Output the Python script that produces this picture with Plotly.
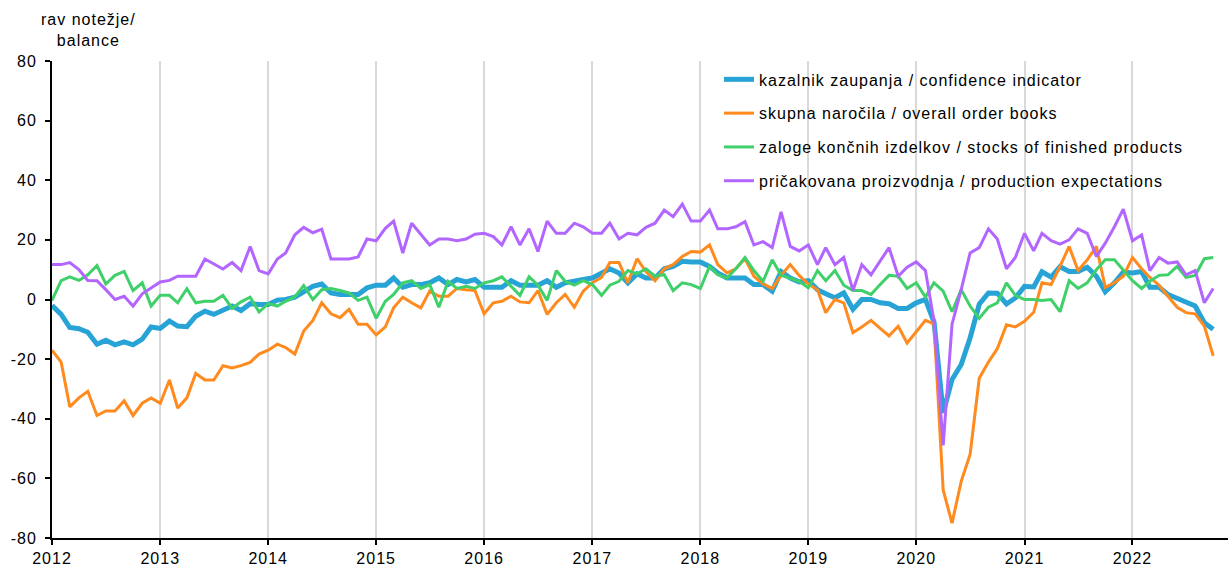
import pandas as pd
import plotly.graph_objects as go

# Months: Jan 2012 .. Oct 2022
months = pd.date_range("2012-01-01", periods=130, freq="MS")

y_tick_values = [-80, -60, -40, -20, 0, 20, 40, 60, 80]
y_tick_labels = ["-80", "-60", "-40", "-20", "0", "20", "40", "60", "80"]

confidence = [
    -2, -5, -9.4, -9.8, -11, -15, -13.7, -15.2, -14.2, -15.2, -13.3, -9.2,
    -9.7, -7.2, -8.9, -9.1, -5.6, -3.9, -5, -3.7, -2.2, -3.7, -1.4, -1.7,
    -1.7, -0.2, 0, 0.8, 2.8, 4.4, 5.2, 2.2, 1.7, 1.9, 1.7, 3.9,
    4.8, 4.8, 7.2, 4.1, 5, 5, 5.6, 7.2, 5, 6.7, 5.9, 6.7,
    4.1, 4.1, 4.1, 6.3, 4.8, 4.8, 4.8, 6.3, 4.1, 5.6, 6.3, 6.7,
    7.2, 8.9, 10.3, 8.9, 5.6, 8.6, 7.2, 7.2, 10.3, 11.1, 12.8, 12.6,
    12.6, 11.1, 8.9, 7.2, 7.2, 7.2, 5, 5, 2.8, 9.4, 7.2, 5.9,
    6.3, 3.3, 1.9, 0.6, 2.2, -3.3, 0, 0, -1.1, -1.4, -3, -3,
    -1.1, 0, -7.5, -38, -26.8, -21.8, -12.9, -1.6, 2.2, 2.1, -1.5, 0.5,
    4.4, 4.2, 9.3, 7.5, 11, 9.4, 9.4, 10.8, 7.8, 2.6, 5.6, 9.2,
    8.9, 9.4, 4.1, 4.1, 1.7, 0.3, -0.8, -2.2, -7.8, -10,
]

order_books = [
    -17, -21, -36, -33, -30.8, -38.9, -37.4, -37.4, -34, -38.9, -34.8, -33,
    -34.8, -27, -36.4, -33, -24.8, -27, -27, -22.2, -23, -22.2, -21.1, -18.3,
    -17, -15, -16.1, -18.3, -10.6, -7, -1.1, -4.8, -6.1, -3.3, -8.3, -8.3,
    -11.9, -9.2, -2.8, 0.8, -1.1, -2.8, 2.8, 1.1, 1.1, 3.7, 3.3, 3,
    -4.8, -1.1, -0.6, 1.1, -0.8, -1.1, 3, -5, -1.1, 1.7, -2.6, 2.8,
    5.6, 7.4, 12.4, 12.4, 5.6, 13.7, 9.4, 6.3, 10.3, 11.7, 14.4, 16.1,
    15.9, 18.3, 11.7, 8.9, 10.3, 13.7, 7.8, 5.2, 3.7, 8.1, 11.7, 8.1,
    5.2, 3.3, -4.4, 0, -1.1, -11.1, -9.2, -7, -9.7, -12.2, -9, -14.6,
    -10.8, -7, -8.2, -63.9, -75, -61, -52, -26.4, -21, -16.5, -8.5, -9.2,
    -7.3, -4.3, 5.6, 5, 11.1, 17.8, 9.7, 13.3, 17.8, 4.1, 5.6, 7.8,
    14.1, 10.3, 7.4, 4.8, 1.1, -2.6, -4.4, -4.8, -8.9, -18.9,
]

stocks = [
    -0.3, 6.3, 7.6, 6.4, 8.3, 11.4, 5.2, 8.1, 9.4, 3, 5.6, -2.2,
    1.4, 1.4, -1.1, 3.6, -1.1, -0.6, -0.6, 1.4, -3, -0.8, 0.8, -4.2,
    -1.4, -2.2, -0.6, 0.9, 4.7, 0, 3.3, 3.7, 3, 2.2, -0.3, 0.8,
    -6.3, -0.6, 1.7, 5.6, 6.3, 3.7, 5, -2.6, 6.1, 3.7, 4.4, 3.7,
    5.6, 6.3, 7.6, 4.4, 1.4, 7.6, 4.8, -0.3, 9.7, 6.1, 4.8, 6.3,
    5, 1.4, 4.8, 6.1, 9.7, 8.6, 10.3, 7.8, 8.3, 3, 5.6, 5,
    3.7, 11.1, 8.3, 7.2, 10.3, 14.1, 9.7, 6.1, 13.3, 8.1, 7.2, 6.1,
    3.9, 9.7, 6.3, 9.7, 4.8, 3, 3, 1.7, 5, 8.1, 7.8, 3.7,
    5.6, 0.8, 5.6, 2.8, -4.1, 3.3, -2.2, -6.3, -2.6, -1.1, 5.6, 1.4,
    0, 0, -0.3, 0, -4.1, 6.3, 3.7, 5.6, 10, 13.3, 13.3, 9.7,
    6.3, 3.7, 6.1, 8.1, 8.3, 11.1, 7.4, 8.1, 13.7, 14.1,
]

production = [
    11.7, 11.7, 12.4, 10, 6.4, 6.3, 3.3, 0, 1.1, -2.2, 1.9, 3.9,
    5.9, 6.4, 7.8, 7.8, 7.8, 13.6, 11.9, 10.2, 12.4, 9.7, 17.8, 9.7,
    8.6, 13.6, 15.6, 21.7, 24.2, 22.4, 23.6, 13.6, 13.6, 13.6, 14.3, 20.3,
    19.7, 23.9, 26.3, 15.6, 25.6, 21.9, 18.3, 20.3, 20.3, 19.7, 20.3, 21.9,
    22.2, 21.1, 18.3, 24.4, 18.3, 23.7, 16.1, 26.3, 22.2, 22.2, 25.6, 24.4,
    22.2, 22.2, 25.6, 20.3, 22.2, 21.7, 24.2, 25.6, 30, 27.8, 32, 26.3,
    26.3, 30, 23.7, 23.7, 24.4, 26.1, 18.3, 19.4, 17.4, 29.4, 17.8, 16.3,
    18.3, 11.7, 17.4, 11.7, 14.1, 3, 11.7, 8.3, 12.8, 17.4, 7.8, 10.8,
    12.6, 9.7, -7.2, -48.9, -8.3, 3.3, 15.6, 17.4, 23.7, 20.3, 10.3, 14.1,
    22.2, 16.3, 22.2, 19.7, 18.6, 20, 23.7, 22.2, 14.4, 18.9, 24.4, 30.3,
    19.7, 21.7, 9.7, 14.1, 12.2, 12.6, 8.3, 9.7, -1.1, 3.7,
]

names = [
    "kazalnik zaupanja / confidence indicator",
    "skupna naročila / overall order books",
    "zaloge končnih izdelkov / stocks of finished products",
    "pričakovana proizvodnja / production expectations",
]
colors = ["#27a3d6", "#ff8a1e", "#3fd06a", "#b266ff"]
widths = [5, 3, 3, 3]
series = [confidence, order_books, stocks, production]

FONT = "Liberation Sans, Arial, sans-serif"

fig = go.Figure()
for i in range(4):
    fig.add_trace(go.Scatter(
        x=months, y=series[i], mode="lines", name=names[i],
        line=dict(color=colors[i], width=widths[i]),
        legendgroup=f"g{i}", legendrank=i + 1,
    ))

fig.update_layout(
    width=1229, height=569,
    margin=dict(l=52, r=1, t=61, b=31),
    paper_bgcolor="white", plot_bgcolor="white",
    font=dict(family=FONT, size=16, color="#000000"),
    showlegend=True,
    legend=dict(
        x=0.5672, y=0.997, xanchor="left", yanchor="top",
        bgcolor="rgba(0,0,0,0)", font=dict(size=16, family=FONT),
        tracegroupgap=10,
    ),
    xaxis=dict(
        type="date",
        range=["2012-01-01", "2022-11-20"],
        tick0="2012-01-01", dtick="M12", tickformat="%Y",
        showgrid=True, gridcolor="#d9d9d9", gridwidth=2,
        showline=True, linecolor="black", linewidth=2,
        ticks="outside", ticklen=5, tickwidth=2, tickcolor="black",
        tickfont=dict(size=16, family=FONT),
        zeroline=False, automargin=False,
    ),
    yaxis=dict(
        range=[-80, 80], tickmode="array",
        tickvals=y_tick_values, ticktext=y_tick_labels,
        showgrid=False, zeroline=False,
        showline=True, linecolor="black", linewidth=2,
        ticks="outside", ticklen=5, tickwidth=2, tickcolor="black",
        tickfont=dict(size=16, family=FONT), ticklabelstandoff=5,
        automargin=False,
    ),
    annotations=[dict(
        text="rav notežje/<br>balance", xref="paper", yref="paper",
        x=(88 - 52) / 1176, y=1.0, xanchor="center", yanchor="bottom",
        yshift=10, showarrow=False, font=dict(size=16, family=FONT),
        align="center",
    )],
)

post = (
    "document.body.style.margin='0';"
    "var s=document.createElement('style');"
    "s.textContent='.legendtext,.xtick text,.ytick text,.annotation-text{letter-spacing:1px;}"
    ".legend .scrollbox,.legend{clip-path:none !important;}';"
    "document.head.appendChild(s);"
)
fig.write_html("out.html", post_script=post, config={"displayModeBar": False})
